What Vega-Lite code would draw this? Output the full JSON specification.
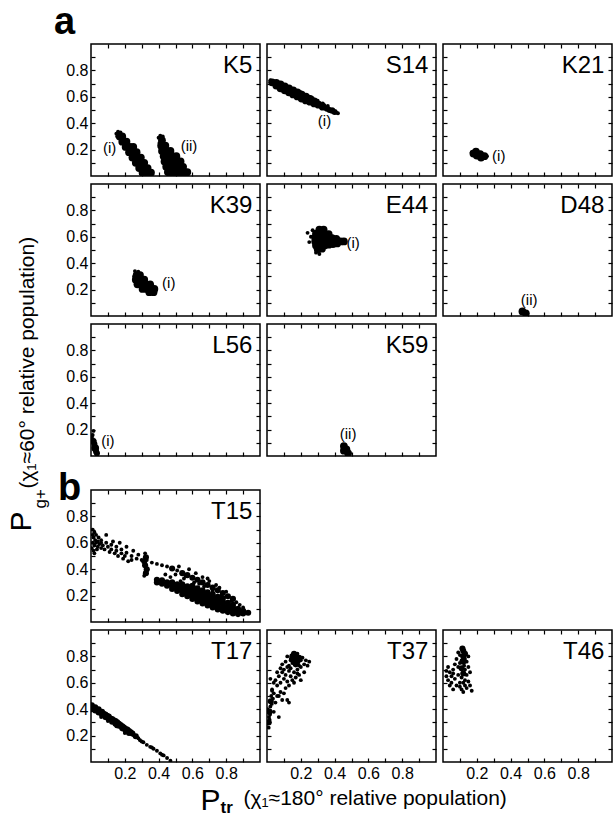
{
"$schema":"https://vega.github.io/schema/vega-lite/v6.json",
"background":"white",
"padding":{"top":3,"left":5,"right":5,"bottom":5},
"config":{"font":"Liberation Sans","view":{"stroke":"black","strokeWidth":1.5},
"axis":{"domain":false,"grid":false,"tickSize":-4,"tickColor":"black","tickWidth":1.2,"labelFontSize":16,"labelColor":"black","labelPadding":7,"labelOverlap":false,"labelFlush":false,"titleColor":"black","titleFontWeight":"normal"}},
"datasets":{
"names":[{"p":"K5"},{"p":"S14"},{"p":"K21"},{"p":"K39"},{"p":"E44"},{"p":"D48"},{"p":"L56"},{"p":"K59"},{"p":"T15"},{"p":"T17"},{"p":"T37"},{"p":"T46"}],
"ann":[{"p":"K5","x":0.11,"y":0.21,"t":"(i)"},{"p":"K5","x":0.58,"y":0.23,"t":"(ii)"},{"p":"S14","x":0.34,"y":0.42,"t":"(i)"},{"p":"K21","x":0.33,"y":0.15,"t":"(i)"},{"p":"K39","x":0.46,"y":0.25,"t":"(i)"},{"p":"E44","x":0.51,"y":0.55,"t":"(i)"},{"p":"D48","x":0.51,"y":0.12,"t":"(ii)"},{"p":"L56","x":0.1,"y":0.11,"t":"(i)"},{"p":"K59","x":0.48,"y":0.17,"t":"(ii)"}],
"pts":[
{"p":"K5","x":0.17,"y":0.3,"k":"c"},{"p":"K5","x":0.185,"y":0.3,"k":"c"},{"p":"K5","x":0.185,"y":0.26,"k":"c"},{"p":"K5","x":0.21,"y":0.26,"k":"c"},{"p":"K5","x":0.205,"y":0.22,"k":"c"},{"p":"K5","x":0.23,"y":0.22,"k":"c"},{"p":"K5","x":0.25,"y":0.22,"k":"c"},{"p":"K5","x":0.225,"y":0.18,"k":"c"},{"p":"K5","x":0.25,"y":0.18,"k":"c"},{"p":"K5","x":0.27,"y":0.18,"k":"c"},{"p":"K5","x":0.245,"y":0.14,"k":"c"},{"p":"K5","x":0.27,"y":0.14,"k":"c"},{"p":"K5","x":0.295,"y":0.14,"k":"c"},{"p":"K5","x":0.265,"y":0.1,"k":"c"},{"p":"K5","x":0.29,"y":0.1,"k":"c"},{"p":"K5","x":0.315,"y":0.1,"k":"c"},{"p":"K5","x":0.285,"y":0.06,"k":"c"},{"p":"K5","x":0.31,"y":0.06,"k":"c"},{"p":"K5","x":0.335,"y":0.06,"k":"c"},{"p":"K5","x":0.305,"y":0.025,"k":"c"},{"p":"K5","x":0.33,"y":0.025,"k":"c"},{"p":"K5","x":0.355,"y":0.025,"k":"c"},
{"p":"K5","x":0.42,"y":0.27,"k":"c"},{"p":"K5","x":0.415,"y":0.23,"k":"c"},{"p":"K5","x":0.44,"y":0.23,"k":"c"},{"p":"K5","x":0.42,"y":0.19,"k":"c"},{"p":"K5","x":0.445,"y":0.19,"k":"c"},{"p":"K5","x":0.47,"y":0.19,"k":"c"},{"p":"K5","x":0.43,"y":0.15,"k":"c"},{"p":"K5","x":0.455,"y":0.15,"k":"c"},{"p":"K5","x":0.48,"y":0.15,"k":"c"},{"p":"K5","x":0.505,"y":0.15,"k":"c"},{"p":"K5","x":0.435,"y":0.11,"k":"c"},{"p":"K5","x":0.46,"y":0.11,"k":"c"},{"p":"K5","x":0.485,"y":0.11,"k":"c"},{"p":"K5","x":0.51,"y":0.11,"k":"c"},{"p":"K5","x":0.53,"y":0.11,"k":"c"},{"p":"K5","x":0.445,"y":0.07,"k":"c"},{"p":"K5","x":0.47,"y":0.07,"k":"c"},{"p":"K5","x":0.495,"y":0.07,"k":"c"},{"p":"K5","x":0.52,"y":0.07,"k":"c"},{"p":"K5","x":0.545,"y":0.07,"k":"c"},{"p":"K5","x":0.455,"y":0.03,"k":"c"},{"p":"K5","x":0.48,"y":0.03,"k":"c"},{"p":"K5","x":0.505,"y":0.03,"k":"c"},{"p":"K5","x":0.53,"y":0.03,"k":"c"},{"p":"K5","x":0.555,"y":0.03,"k":"c"},{"p":"K5","x":0.57,"y":0.03,"k":"c"},{"p":"K5","x":0.47,"y":0.005,"k":"c"},{"p":"K5","x":0.5,"y":0.005,"k":"c"},{"p":"K5","x":0.53,"y":0.005,"k":"c"},{"p":"K5","x":0.56,"y":0.005,"k":"c"},
{"p":"K5","x":0.15,"y":0.32,"k":"d"},{"p":"K5","x":0.16,"y":0.335,"k":"d"},{"p":"K5","x":0.155,"y":0.3,"k":"d"},{"p":"K5","x":0.175,"y":0.33,"k":"d"},{"p":"K5","x":0.4,"y":0.29,"k":"d"},{"p":"K5","x":0.41,"y":0.305,"k":"d"},{"p":"K5","x":0.425,"y":0.3,"k":"d"},{"p":"K5","x":0.405,"y":0.25,"k":"d"},
{"p":"S14","x":0.03,"y":0.71,"k":"c"},{"p":"S14","x":0.055,"y":0.705,"k":"c"},{"p":"S14","x":0.055,"y":0.685,"k":"c"},{"p":"S14","x":0.08,"y":0.694,"k":"c"},{"p":"S14","x":0.08,"y":0.664,"k":"c"},{"p":"S14","x":0.105,"y":0.679,"k":"c"},{"p":"S14","x":0.105,"y":0.649,"k":"c"},{"p":"S14","x":0.13,"y":0.664,"k":"c"},{"p":"S14","x":0.13,"y":0.634,"k":"c"},{"p":"S14","x":0.155,"y":0.648,"k":"c"},{"p":"S14","x":0.155,"y":0.618,"k":"c"},{"p":"S14","x":0.18,"y":0.633,"k":"c"},{"p":"S14","x":0.18,"y":0.603,"k":"c"},{"p":"S14","x":0.205,"y":0.617,"k":"c"},{"p":"S14","x":0.205,"y":0.587,"k":"c"},{"p":"S14","x":0.23,"y":0.602,"k":"c"},{"p":"S14","x":0.23,"y":0.572,"k":"c"},{"p":"S14","x":0.255,"y":0.585,"k":"c"},{"p":"S14","x":0.255,"y":0.563,"k":"c"},{"p":"S14","x":0.28,"y":0.565,"k":"c"},{"p":"S14","x":0.28,"y":0.55,"k":"c"},{"p":"S14","x":0.305,"y":0.54,"k":"c"},{"p":"S14","x":0.33,"y":0.525,"k":"c"},
{"p":"S14","x":0.355,"y":0.51,"k":"m"},{"p":"S14","x":0.37,"y":0.5,"k":"m"},{"p":"S14","x":0.385,"y":0.495,"k":"m"},{"p":"S14","x":0.4,"y":0.485,"k":"m"},
{"p":"S14","x":0.39,"y":0.505,"k":"d"},{"p":"S14","x":0.41,"y":0.48,"k":"d"},{"p":"S14","x":0.42,"y":0.475,"k":"d"},{"p":"S14","x":0.36,"y":0.53,"k":"d"},{"p":"S14","x":0.3,"y":0.57,"k":"d"},{"p":"S14","x":0.25,"y":0.6,"k":"d"},{"p":"S14","x":0.2,"y":0.635,"k":"d"},{"p":"S14","x":0.02,"y":0.725,"k":"d"},{"p":"S14","x":0.33,"y":0.55,"k":"d"},{"p":"S14","x":0.27,"y":0.59,"k":"d"},
{"p":"K21","x":0.18,"y":0.17,"k":"c"},{"p":"K21","x":0.195,"y":0.185,"k":"c"},{"p":"K21","x":0.2,"y":0.155,"k":"c"},{"p":"K21","x":0.22,"y":0.165,"k":"c"},{"p":"K21","x":0.225,"y":0.14,"k":"c"},{"p":"K21","x":0.245,"y":0.15,"k":"c"},{"p":"K21","x":0.26,"y":0.15,"k":"d"},{"p":"K21","x":0.17,"y":0.18,"k":"d"},
{"p":"K39","x":0.27,"y":0.31,"k":"c"},{"p":"K39","x":0.29,"y":0.31,"k":"c"},{"p":"K39","x":0.265,"y":0.275,"k":"c"},{"p":"K39","x":0.29,"y":0.275,"k":"c"},{"p":"K39","x":0.315,"y":0.275,"k":"c"},{"p":"K39","x":0.275,"y":0.24,"k":"c"},{"p":"K39","x":0.3,"y":0.24,"k":"c"},{"p":"K39","x":0.325,"y":0.24,"k":"c"},{"p":"K39","x":0.35,"y":0.24,"k":"c"},{"p":"K39","x":0.305,"y":0.205,"k":"c"},{"p":"K39","x":0.33,"y":0.205,"k":"c"},{"p":"K39","x":0.355,"y":0.205,"k":"c"},{"p":"K39","x":0.375,"y":0.205,"k":"c"},{"p":"K39","x":0.345,"y":0.18,"k":"c"},{"p":"K39","x":0.37,"y":0.18,"k":"c"},{"p":"K39","x":0.26,"y":0.34,"k":"d"},{"p":"K39","x":0.255,"y":0.3,"k":"d"},{"p":"K39","x":0.28,"y":0.335,"k":"d"},
{"p":"E44","x":0.31,"y":0.655,"k":"c"},{"p":"E44","x":0.335,"y":0.655,"k":"c"},{"p":"E44","x":0.29,"y":0.625,"k":"c"},{"p":"E44","x":0.315,"y":0.625,"k":"c"},{"p":"E44","x":0.34,"y":0.625,"k":"c"},{"p":"E44","x":0.365,"y":0.62,"k":"c"},{"p":"E44","x":0.285,"y":0.595,"k":"c"},{"p":"E44","x":0.31,"y":0.595,"k":"c"},{"p":"E44","x":0.335,"y":0.595,"k":"c"},{"p":"E44","x":0.36,"y":0.595,"k":"c"},{"p":"E44","x":0.385,"y":0.59,"k":"c"},{"p":"E44","x":0.41,"y":0.585,"k":"c"},{"p":"E44","x":0.285,"y":0.565,"k":"c"},{"p":"E44","x":0.31,"y":0.565,"k":"c"},{"p":"E44","x":0.335,"y":0.565,"k":"c"},{"p":"E44","x":0.36,"y":0.565,"k":"c"},{"p":"E44","x":0.385,"y":0.565,"k":"c"},{"p":"E44","x":0.41,"y":0.565,"k":"c"},{"p":"E44","x":0.435,"y":0.565,"k":"c"},{"p":"E44","x":0.455,"y":0.565,"k":"c"},{"p":"E44","x":0.29,"y":0.535,"k":"c"},{"p":"E44","x":0.315,"y":0.535,"k":"c"},{"p":"E44","x":0.34,"y":0.535,"k":"c"},{"p":"E44","x":0.365,"y":0.54,"k":"c"},{"p":"E44","x":0.39,"y":0.545,"k":"c"},{"p":"E44","x":0.415,"y":0.55,"k":"c"},{"p":"E44","x":0.3,"y":0.505,"k":"c"},{"p":"E44","x":0.325,"y":0.51,"k":"c"},
{"p":"E44","x":0.26,"y":0.6,"k":"d"},{"p":"E44","x":0.25,"y":0.56,"k":"d"},{"p":"E44","x":0.24,"y":0.63,"k":"d"},{"p":"E44","x":0.29,"y":0.48,"k":"d"},{"p":"E44","x":0.31,"y":0.47,"k":"d"},{"p":"E44","x":0.27,"y":0.65,"k":"d"},
{"p":"D48","x":0.47,"y":0.035,"k":"c"},{"p":"D48","x":0.49,"y":0.02,"k":"c"},
{"p":"L56","x":0.025,"y":0.06,"k":"c"},{"p":"L56","x":0.02,"y":0.09,"k":"m"},{"p":"L56","x":0.015,"y":0.11,"k":"m"},{"p":"L56","x":0.03,"y":0.035,"k":"m"},{"p":"L56","x":0.035,"y":0.02,"k":"m"},{"p":"L56","x":0.01,"y":0.13,"k":"d"},{"p":"L56","x":0.01,"y":0.16,"k":"d"},{"p":"L56","x":0.015,"y":0.19,"k":"d"},{"p":"L56","x":0.02,"y":0.12,"k":"d"},{"p":"L56","x":0.005,"y":0.15,"k":"d"},
{"p":"K59","x":0.455,"y":0.075,"k":"c"},{"p":"K59","x":0.47,"y":0.05,"k":"c"},{"p":"K59","x":0.48,"y":0.02,"k":"c"},{"p":"K59","x":0.455,"y":0.04,"k":"c"},
{"p":"T15","x":0.39,"y":0.3,"k":"m"},{"p":"T15","x":0.39,"y":0.32,"k":"m"},{"p":"T15","x":0.42,"y":0.29,"k":"m"},{"p":"T15","x":0.42,"y":0.315,"k":"m"},{"p":"T15","x":0.45,"y":0.275,"k":"m"},{"p":"T15","x":0.45,"y":0.3,"k":"m"},{"p":"T15","x":0.48,"y":0.25,"k":"m"},{"p":"T15","x":0.48,"y":0.275,"k":"m"},{"p":"T15","x":0.48,"y":0.3,"k":"m"},{"p":"T15","x":0.51,"y":0.235,"k":"m"},{"p":"T15","x":0.51,"y":0.26,"k":"m"},{"p":"T15","x":0.51,"y":0.285,"k":"m"},{"p":"T15","x":0.54,"y":0.21,"k":"m"},{"p":"T15","x":0.54,"y":0.235,"k":"m"},{"p":"T15","x":0.54,"y":0.26,"k":"m"},{"p":"T15","x":0.54,"y":0.285,"k":"m"},{"p":"T15","x":0.57,"y":0.195,"k":"m"},{"p":"T15","x":0.57,"y":0.22,"k":"m"},{"p":"T15","x":0.57,"y":0.245,"k":"m"},{"p":"T15","x":0.57,"y":0.27,"k":"m"},{"p":"T15","x":0.6,"y":0.175,"k":"m"},{"p":"T15","x":0.6,"y":0.2,"k":"m"},{"p":"T15","x":0.6,"y":0.225,"k":"m"},{"p":"T15","x":0.6,"y":0.25,"k":"m"},{"p":"T15","x":0.6,"y":0.275,"k":"m"},{"p":"T15","x":0.63,"y":0.155,"k":"m"},{"p":"T15","x":0.63,"y":0.18,"k":"m"},{"p":"T15","x":0.63,"y":0.205,"k":"m"},{"p":"T15","x":0.63,"y":0.23,"k":"m"},{"p":"T15","x":0.63,"y":0.255,"k":"m"},{"p":"T15","x":0.66,"y":0.14,"k":"m"},{"p":"T15","x":0.66,"y":0.165,"k":"m"},{"p":"T15","x":0.66,"y":0.19,"k":"m"},{"p":"T15","x":0.66,"y":0.215,"k":"m"},{"p":"T15","x":0.66,"y":0.24,"k":"m"},{"p":"T15","x":0.69,"y":0.125,"k":"m"},{"p":"T15","x":0.69,"y":0.15,"k":"m"},{"p":"T15","x":0.69,"y":0.175,"k":"m"},{"p":"T15","x":0.69,"y":0.2,"k":"m"},{"p":"T15","x":0.69,"y":0.225,"k":"m"},{"p":"T15","x":0.72,"y":0.11,"k":"m"},{"p":"T15","x":0.72,"y":0.135,"k":"m"},{"p":"T15","x":0.72,"y":0.16,"k":"m"},{"p":"T15","x":0.72,"y":0.185,"k":"m"},{"p":"T15","x":0.72,"y":0.21,"k":"m"},{"p":"T15","x":0.75,"y":0.095,"k":"m"},{"p":"T15","x":0.75,"y":0.12,"k":"m"},{"p":"T15","x":0.75,"y":0.145,"k":"m"},{"p":"T15","x":0.75,"y":0.17,"k":"m"},{"p":"T15","x":0.75,"y":0.19,"k":"m"},{"p":"T15","x":0.78,"y":0.085,"k":"m"},{"p":"T15","x":0.78,"y":0.11,"k":"m"},{"p":"T15","x":0.78,"y":0.135,"k":"m"},{"p":"T15","x":0.78,"y":0.155,"k":"m"},{"p":"T15","x":0.78,"y":0.18,"k":"m"},{"p":"T15","x":0.81,"y":0.075,"k":"m"},{"p":"T15","x":0.81,"y":0.1,"k":"m"},{"p":"T15","x":0.81,"y":0.12,"k":"m"},{"p":"T15","x":0.81,"y":0.145,"k":"m"},{"p":"T15","x":0.84,"y":0.065,"k":"m"},{"p":"T15","x":0.84,"y":0.09,"k":"m"},{"p":"T15","x":0.84,"y":0.11,"k":"m"},{"p":"T15","x":0.84,"y":0.13,"k":"m"},{"p":"T15","x":0.87,"y":0.06,"k":"m"},{"p":"T15","x":0.87,"y":0.08,"k":"m"},{"p":"T15","x":0.87,"y":0.1,"k":"m"},{"p":"T15","x":0.9,"y":0.065,"k":"m"},{"p":"T15","x":0.9,"y":0.085,"k":"m"},{"p":"T15","x":0.93,"y":0.07,"k":"m"},
{"p":"T15","x":0.45,"y":0.42,"k":"d"},{"p":"T15","x":0.48,"y":0.405,"k":"m"},{"p":"T15","x":0.51,"y":0.39,"k":"d"},{"p":"T15","x":0.54,"y":0.37,"k":"m"},{"p":"T15","x":0.57,"y":0.355,"k":"m"},{"p":"T15","x":0.6,"y":0.335,"k":"m"},{"p":"T15","x":0.63,"y":0.32,"k":"m"},{"p":"T15","x":0.66,"y":0.3,"k":"m"},{"p":"T15","x":0.69,"y":0.28,"k":"m"},{"p":"T15","x":0.72,"y":0.26,"k":"m"},{"p":"T15","x":0.75,"y":0.24,"k":"m"},{"p":"T15","x":0.78,"y":0.22,"k":"m"},{"p":"T15","x":0.81,"y":0.195,"k":"m"},{"p":"T15","x":0.84,"y":0.175,"k":"m"},
{"p":"T15","x":0.32,"y":0.52,"k":"d"},{"p":"T15","x":0.325,"y":0.49,"k":"m"},{"p":"T15","x":0.315,"y":0.46,"k":"m"},{"p":"T15","x":0.32,"y":0.43,"k":"m"},{"p":"T15","x":0.33,"y":0.4,"k":"m"},{"p":"T15","x":0.325,"y":0.37,"k":"m"},{"p":"T15","x":0.315,"y":0.35,"k":"d"},{"p":"T15","x":0.33,"y":0.47,"k":"d"},
{"p":"T15","x":0.5,"y":0.36,"k":"d"},{"p":"T15","x":0.55,"y":0.33,"k":"d"},{"p":"T15","x":0.62,"y":0.37,"k":"d"},{"p":"T15","x":0.7,"y":0.31,"k":"d"},{"p":"T15","x":0.58,"y":0.4,"k":"d"},{"p":"T15","x":0.47,"y":0.34,"k":"d"},{"p":"T15","x":0.44,"y":0.36,"k":"d"},{"p":"T15","x":0.52,"y":0.42,"k":"d"},{"p":"T15","x":0.66,"y":0.34,"k":"d"},{"p":"T15","x":0.74,"y":0.28,"k":"d"},{"p":"T15","x":0.8,"y":0.23,"k":"d"},{"p":"T15","x":0.86,"y":0.15,"k":"d"},{"p":"T15","x":0.9,"y":0.11,"k":"d"},{"p":"T15","x":0.88,"y":0.13,"k":"d"},{"p":"T15","x":0.76,"y":0.26,"k":"d"},{"p":"T15","x":0.69,"y":0.33,"k":"d"},{"p":"T15","x":0.53,"y":0.31,"k":"d"},{"p":"T15","x":0.61,"y":0.3,"k":"d"},{"p":"T15","x":0.67,"y":0.27,"k":"d"},{"p":"T15","x":0.72,"y":0.235,"k":"d"},{"p":"T15","x":0.77,"y":0.2,"k":"d"},{"p":"T15","x":0.83,"y":0.16,"k":"d"},{"p":"T15","x":0.64,"y":0.29,"k":"d"},{"p":"T15","x":0.56,"y":0.35,"k":"d"},
{"p":"T15","x":0.06,"y":0.62,"k":"d"},{"p":"T15","x":0.09,"y":0.6,"k":"d"},{"p":"T15","x":0.12,"y":0.585,"k":"d"},{"p":"T15","x":0.15,"y":0.57,"k":"d"},{"p":"T15","x":0.18,"y":0.55,"k":"d"},{"p":"T15","x":0.21,"y":0.525,"k":"d"},{"p":"T15","x":0.24,"y":0.5,"k":"d"},{"p":"T15","x":0.27,"y":0.48,"k":"d"},{"p":"T15","x":0.3,"y":0.47,"k":"d"},{"p":"T15","x":0.36,"y":0.45,"k":"d"},{"p":"T15","x":0.39,"y":0.44,"k":"d"},{"p":"T15","x":0.42,"y":0.43,"k":"d"},
{"p":"T15","x":0.01,"y":0.7,"k":"d"},{"p":"T15","x":0.02,"y":0.68,"k":"d"},{"p":"T15","x":0.015,"y":0.64,"k":"d"},{"p":"T15","x":0.03,"y":0.66,"k":"d"},{"p":"T15","x":0.01,"y":0.6,"k":"d"},{"p":"T15","x":0.02,"y":0.58,"k":"d"},{"p":"T15","x":0.03,"y":0.6,"k":"d"},{"p":"T15","x":0.04,"y":0.57,"k":"d"},{"p":"T15","x":0.05,"y":0.59,"k":"d"},{"p":"T15","x":0.035,"y":0.55,"k":"d"},{"p":"T15","x":0.06,"y":0.56,"k":"d"},{"p":"T15","x":0.07,"y":0.58,"k":"d"},{"p":"T15","x":0.08,"y":0.55,"k":"d"},{"p":"T15","x":0.1,"y":0.57,"k":"d"},{"p":"T15","x":0.11,"y":0.53,"k":"d"},{"p":"T15","x":0.12,"y":0.55,"k":"d"},{"p":"T15","x":0.14,"y":0.52,"k":"d"},{"p":"T15","x":0.15,"y":0.54,"k":"d"},{"p":"T15","x":0.16,"y":0.5,"k":"d"},{"p":"T15","x":0.18,"y":0.52,"k":"d"},{"p":"T15","x":0.19,"y":0.48,"k":"d"},{"p":"T15","x":0.2,"y":0.5,"k":"d"},{"p":"T15","x":0.22,"y":0.46,"k":"d"},{"p":"T15","x":0.24,"y":0.47,"k":"d"},{"p":"T15","x":0.02,"y":0.52,"k":"d"},{"p":"T15","x":0.005,"y":0.56,"k":"d"},{"p":"T15","x":0.045,"y":0.64,"k":"d"},{"p":"T15","x":0.09,"y":0.66,"k":"d"},{"p":"T15","x":0.13,"y":0.61,"k":"d"},{"p":"T15","x":0.17,"y":0.6,"k":"d"},{"p":"T15","x":0.21,"y":0.57,"k":"d"},{"p":"T15","x":0.25,"y":0.54,"k":"d"},{"p":"T15","x":0.28,"y":0.51,"k":"d"},{"p":"T15","x":0.01,"y":0.66,"k":"d"},{"p":"T15","x":0.025,"y":0.62,"k":"d"},{"p":"T15","x":0.04,"y":0.61,"k":"d"},{"p":"T15","x":0.06,"y":0.6,"k":"d"},{"p":"T15","x":0.015,"y":0.54,"k":"d"},
{"p":"T17","x":0.005,"y":0.43,"k":"m"},{"p":"T17","x":0.005,"y":0.4,"k":"m"},{"p":"T17","x":0.025,"y":0.415,"k":"m"},{"p":"T17","x":0.025,"y":0.39,"k":"m"},{"p":"T17","x":0.045,"y":0.4,"k":"m"},{"p":"T17","x":0.045,"y":0.375,"k":"m"},{"p":"T17","x":0.065,"y":0.38,"k":"m"},{"p":"T17","x":0.065,"y":0.36,"k":"m"},{"p":"T17","x":0.085,"y":0.36,"k":"m"},{"p":"T17","x":0.085,"y":0.34,"k":"m"},{"p":"T17","x":0.105,"y":0.345,"k":"m"},{"p":"T17","x":0.105,"y":0.325,"k":"m"},{"p":"T17","x":0.125,"y":0.325,"k":"m"},{"p":"T17","x":0.125,"y":0.305,"k":"m"},{"p":"T17","x":0.145,"y":0.31,"k":"m"},{"p":"T17","x":0.145,"y":0.29,"k":"m"},{"p":"T17","x":0.165,"y":0.29,"k":"m"},{"p":"T17","x":0.165,"y":0.275,"k":"m"},{"p":"T17","x":0.185,"y":0.27,"k":"m"},{"p":"T17","x":0.185,"y":0.255,"k":"m"},{"p":"T17","x":0.205,"y":0.25,"k":"m"},{"p":"T17","x":0.205,"y":0.24,"k":"m"},{"p":"T17","x":0.225,"y":0.235,"k":"m"},{"p":"T17","x":0.225,"y":0.22,"k":"m"},{"p":"T17","x":0.245,"y":0.215,"k":"m"},{"p":"T17","x":0.265,"y":0.195,"k":"m"},{"p":"T17","x":0.015,"y":0.41,"k":"m"},{"p":"T17","x":0.035,"y":0.395,"k":"m"},{"p":"T17","x":0.055,"y":0.38,"k":"m"},{"p":"T17","x":0.075,"y":0.365,"k":"m"},{"p":"T17","x":0.095,"y":0.35,"k":"m"},{"p":"T17","x":0.115,"y":0.33,"k":"m"},{"p":"T17","x":0.135,"y":0.315,"k":"m"},{"p":"T17","x":0.155,"y":0.3,"k":"m"},{"p":"T17","x":0.175,"y":0.28,"k":"m"},{"p":"T17","x":0.195,"y":0.26,"k":"m"},{"p":"T17","x":0.215,"y":0.245,"k":"m"},{"p":"T17","x":0.235,"y":0.225,"k":"m"},
{"p":"T17","x":0.29,"y":0.165,"k":"d"},{"p":"T17","x":0.31,"y":0.15,"k":"d"},{"p":"T17","x":0.33,"y":0.13,"k":"d"},{"p":"T17","x":0.35,"y":0.115,"k":"d"},{"p":"T17","x":0.37,"y":0.1,"k":"d"},{"p":"T17","x":0.39,"y":0.085,"k":"d"},{"p":"T17","x":0.41,"y":0.065,"k":"d"},{"p":"T17","x":0.43,"y":0.05,"k":"d"},{"p":"T17","x":0.45,"y":0.03,"k":"d"},{"p":"T17","x":0.47,"y":0.01,"k":"d"},{"p":"T17","x":0.36,"y":0.11,"k":"d"},{"p":"T17","x":0.3,"y":0.155,"k":"d"},{"p":"T17","x":0.42,"y":0.055,"k":"d"},{"p":"T17","x":0.06,"y":0.34,"k":"d"},{"p":"T17","x":0.1,"y":0.31,"k":"d"},{"p":"T17","x":0.15,"y":0.27,"k":"d"},{"p":"T17","x":0.2,"y":0.22,"k":"d"},{"p":"T17","x":0.255,"y":0.2,"k":"d"},{"p":"T17","x":0.28,"y":0.18,"k":"d"},
{"p":"T37","x":0.15,"y":0.8,"k":"m"},{"p":"T37","x":0.17,"y":0.8,"k":"m"},{"p":"T37","x":0.19,"y":0.79,"k":"m"},{"p":"T37","x":0.16,"y":0.77,"k":"m"},{"p":"T37","x":0.18,"y":0.76,"k":"m"},{"p":"T37","x":0.2,"y":0.77,"k":"d"},{"p":"T37","x":0.17,"y":0.74,"k":"m"},{"p":"T37","x":0.15,"y":0.75,"k":"d"},{"p":"T37","x":0.13,"y":0.73,"k":"d"},{"p":"T37","x":0.19,"y":0.73,"k":"d"},{"p":"T37","x":0.16,"y":0.82,"k":"m"},{"p":"T37","x":0.18,"y":0.82,"k":"d"},{"p":"T37","x":0.14,"y":0.77,"k":"d"},{"p":"T37","x":0.17,"y":0.78,"k":"m"},
{"p":"T37","x":0.01,"y":0.3,"k":"m"},{"p":"T37","x":0.012,"y":0.34,"k":"d"},{"p":"T37","x":0.015,"y":0.38,"k":"m"},{"p":"T37","x":0.02,"y":0.42,"k":"d"},{"p":"T37","x":0.022,"y":0.46,"k":"m"},{"p":"T37","x":0.025,"y":0.5,"k":"d"},{"p":"T37","x":0.03,"y":0.54,"k":"d"},{"p":"T37","x":0.01,"y":0.26,"k":"d"},{"p":"T37","x":0.018,"y":0.36,"k":"d"},{"p":"T37","x":0.028,"y":0.44,"k":"d"},{"p":"T37","x":0.035,"y":0.48,"k":"d"},{"p":"T37","x":0.04,"y":0.52,"k":"d"},{"p":"T37","x":0.015,"y":0.32,"k":"d"},{"p":"T37","x":0.005,"y":0.4,"k":"d"},
{"p":"T37","x":0.05,"y":0.62,"k":"d"},{"p":"T37","x":0.07,"y":0.65,"k":"d"},{"p":"T37","x":0.09,"y":0.68,"k":"d"},{"p":"T37","x":0.1,"y":0.7,"k":"d"},{"p":"T37","x":0.12,"y":0.72,"k":"d"},{"p":"T37","x":0.11,"y":0.66,"k":"d"},{"p":"T37","x":0.13,"y":0.69,"k":"d"},{"p":"T37","x":0.14,"y":0.71,"k":"d"},{"p":"T37","x":0.08,"y":0.6,"k":"d"},{"p":"T37","x":0.06,"y":0.58,"k":"d"},{"p":"T37","x":0.1,"y":0.63,"k":"d"},{"p":"T37","x":0.12,"y":0.61,"k":"d"},{"p":"T37","x":0.14,"y":0.65,"k":"d"},{"p":"T37","x":0.16,"y":0.68,"k":"d"},{"p":"T37","x":0.18,"y":0.7,"k":"d"},{"p":"T37","x":0.2,"y":0.72,"k":"d"},{"p":"T37","x":0.22,"y":0.74,"k":"d"},{"p":"T37","x":0.21,"y":0.79,"k":"d"},{"p":"T37","x":0.23,"y":0.77,"k":"d"},{"p":"T37","x":0.24,"y":0.73,"k":"d"},{"p":"T37","x":0.25,"y":0.76,"k":"d"},{"p":"T37","x":0.22,"y":0.68,"k":"d"},{"p":"T37","x":0.19,"y":0.66,"k":"d"},{"p":"T37","x":0.15,"y":0.62,"k":"d"},{"p":"T37","x":0.13,"y":0.58,"k":"d"},{"p":"T37","x":0.11,"y":0.56,"k":"d"},{"p":"T37","x":0.03,"y":0.55,"k":"d"},{"p":"T37","x":0.04,"y":0.6,"k":"d"},{"p":"T37","x":0.02,"y":0.63,"k":"d"},{"p":"T37","x":0.09,"y":0.74,"k":"d"},{"p":"T37","x":0.11,"y":0.76,"k":"d"},{"p":"T37","x":0.14,"y":0.78,"k":"d"},{"p":"T37","x":0.12,"y":0.8,"k":"d"},{"p":"T37","x":0.08,"y":0.71,"k":"d"},{"p":"T37","x":0.06,"y":0.68,"k":"d"},{"p":"T37","x":0.17,"y":0.64,"k":"d"},{"p":"T37","x":0.2,"y":0.62,"k":"d"},{"p":"T37","x":0.1,"y":0.52,"k":"d"},{"p":"T37","x":0.07,"y":0.5,"k":"d"},{"p":"T37","x":0.13,"y":0.45,"k":"d"},{"p":"T37","x":0.09,"y":0.47,"k":"d"},{"p":"T37","x":0.16,"y":0.6,"k":"d"},{"p":"T37","x":0.18,"y":0.67,"k":"d"},{"p":"T37","x":0.05,"y":0.45,"k":"d"},{"p":"T37","x":0.06,"y":0.5,"k":"d"},{"p":"T37","x":0.08,"y":0.53,"k":"d"},{"p":"T37","x":0.07,"y":0.34,"k":"d"},{"p":"T37","x":0.12,"y":0.47,"k":"d"},{"p":"T37","x":0.04,"y":0.38,"k":"d"},
{"p":"T46","x":0.12,"y":0.84,"k":"m"},{"p":"T46","x":0.13,"y":0.82,"k":"m"},{"p":"T46","x":0.12,"y":0.8,"k":"m"},{"p":"T46","x":0.13,"y":0.78,"k":"d"},{"p":"T46","x":0.12,"y":0.76,"k":"m"},{"p":"T46","x":0.125,"y":0.73,"k":"d"},{"p":"T46","x":0.11,"y":0.71,"k":"m"},{"p":"T46","x":0.13,"y":0.7,"k":"d"},{"p":"T46","x":0.12,"y":0.67,"k":"m"},{"p":"T46","x":0.11,"y":0.64,"k":"d"},{"p":"T46","x":0.13,"y":0.62,"k":"d"},{"p":"T46","x":0.12,"y":0.6,"k":"d"},{"p":"T46","x":0.115,"y":0.86,"k":"m"},
{"p":"T46","x":0.03,"y":0.72,"k":"d"},{"p":"T46","x":0.04,"y":0.68,"k":"d"},{"p":"T46","x":0.05,"y":0.65,"k":"d"},{"p":"T46","x":0.03,"y":0.62,"k":"d"},{"p":"T46","x":0.06,"y":0.7,"k":"d"},{"p":"T46","x":0.07,"y":0.74,"k":"d"},{"p":"T46","x":0.08,"y":0.78,"k":"d"},{"p":"T46","x":0.09,"y":0.72,"k":"d"},{"p":"T46","x":0.1,"y":0.75,"k":"d"},{"p":"T46","x":0.09,"y":0.66,"k":"d"},{"p":"T46","x":0.07,"y":0.63,"k":"d"},{"p":"T46","x":0.05,"y":0.6,"k":"d"},{"p":"T46","x":0.08,"y":0.58,"k":"d"},{"p":"T46","x":0.1,"y":0.6,"k":"d"},{"p":"T46","x":0.14,"y":0.66,"k":"d"},{"p":"T46","x":0.15,"y":0.72,"k":"d"},{"p":"T46","x":0.16,"y":0.68,"k":"d"},{"p":"T46","x":0.15,"y":0.61,"k":"d"},{"p":"T46","x":0.16,"y":0.58,"k":"d"},{"p":"T46","x":0.17,"y":0.54,"k":"d"},{"p":"T46","x":0.14,"y":0.56,"k":"d"},{"p":"T46","x":0.11,"y":0.55,"k":"d"},{"p":"T46","x":0.1,"y":0.57,"k":"d"},{"p":"T46","x":0.06,"y":0.55,"k":"d"},{"p":"T46","x":0.04,"y":0.58,"k":"d"},{"p":"T46","x":0.02,"y":0.65,"k":"d"},{"p":"T46","x":0.02,"y":0.69,"k":"d"},{"p":"T46","x":0.14,"y":0.76,"k":"d"},{"p":"T46","x":0.15,"y":0.8,"k":"d"},{"p":"T46","x":0.1,"y":0.81,"k":"d"},{"p":"T46","x":0.09,"y":0.83,"k":"d"},{"p":"T46","x":0.11,"y":0.77,"k":"d"},{"p":"T46","x":0.06,"y":0.67,"k":"d"},{"p":"T46","x":0.13,"y":0.58,"k":"d"},{"p":"T46","x":0.12,"y":0.53,"k":"d"}
]},
"columns":3,
"bounds":"flush",
"spacing":{"row":8,"column":7},
"concat":[
{"width":169,"height":132,
"title":{"text":"a","anchor":"start","frame":"group","fontSize":38,"fontWeight":"bold","baseline":"alphabetic","offset":0,"dx":-37,"dy":29,"color":"black"},
"layer":[
{"data":{"name":"pts"},"transform":[{"filter":"datum.p=='K5'"}],"mark":{"type":"point","filled":true,"color":"black","opacity":1,"clip":true},
"encoding":{"x":{"field":"x","type":"quantitative","scale":{"domain":[0,1],"nice":false},"axis":{"orient":"bottom","values":[0.1,0.2,0.3,0.4,0.5,0.6,0.7,0.8,0.9],"labels":false,"title":null}},
"y":{"field":"y","type":"quantitative","scale":{"domain":[0,1],"nice":false},"axis":{"orient":"left","values":[0.1,0.2,0.3,0.4,0.5,0.6,0.7,0.8,0.9],"labelExpr":"indexof([2,4,6,8], round(datum.value*10)) >= 0 ? datum.label : ''","title":null}},
"size":{"field":"k","type":"ordinal","scale":{"domain":["c","m","d"],"range":[60,15,2.5]},"legend":null}}},
{"data":{"name":"ann"},"transform":[{"filter":"datum.p=='K5'"}],"mark":{"type":"text","fontSize":15,"color":"black"},"encoding":{"x":{"field":"x","type":"quantitative","axis":null},"y":{"field":"y","type":"quantitative","axis":null},"text":{"field":"t"}}},
{"data":{"name":"names"},"transform":[{"filter":"datum.p=='K5'"}],"mark":{"type":"text","fontSize":24,"align":"right","baseline":"alphabetic","color":"black"},
"encoding":{"x":{"datum":0.955,"type":"quantitative","axis":{"orient":"top","values":[0.1,0.2,0.3,0.4,0.5,0.6,0.7,0.8,0.9],"labels":false,"title":null}},"y":{"datum":0.78,"type":"quantitative","axis":{"orient":"right","values":[0.1,0.2,0.3,0.4,0.5,0.6,0.7,0.8,0.9],"labels":false,"title":null}},"text":{"field":"p"}}}
],"resolve":{"axis":{"x":"independent","y":"independent"}}},
{"width":169,"height":132,
"layer":[
{"data":{"name":"pts"},"transform":[{"filter":"datum.p=='S14'"}],"mark":{"type":"point","filled":true,"color":"black","opacity":1,"clip":true},
"encoding":{"x":{"field":"x","type":"quantitative","scale":{"domain":[0,1],"nice":false},"axis":{"orient":"bottom","values":[0.1,0.2,0.3,0.4,0.5,0.6,0.7,0.8,0.9],"labels":false,"title":null}},
"y":{"field":"y","type":"quantitative","scale":{"domain":[0,1],"nice":false},"axis":{"orient":"left","values":[0.1,0.2,0.3,0.4,0.5,0.6,0.7,0.8,0.9],"labels":false,"title":null}},
"size":{"field":"k","type":"ordinal","scale":{"domain":["c","m","d"],"range":[60,15,2.5]},"legend":null}}},
{"data":{"name":"ann"},"transform":[{"filter":"datum.p=='S14'"}],"mark":{"type":"text","fontSize":15,"color":"black"},"encoding":{"x":{"field":"x","type":"quantitative","axis":null},"y":{"field":"y","type":"quantitative","axis":null},"text":{"field":"t"}}},
{"data":{"name":"names"},"transform":[{"filter":"datum.p=='S14'"}],"mark":{"type":"text","fontSize":24,"align":"right","baseline":"alphabetic","color":"black"},
"encoding":{"x":{"datum":0.955,"type":"quantitative","axis":{"orient":"top","values":[0.1,0.2,0.3,0.4,0.5,0.6,0.7,0.8,0.9],"labels":false,"title":null}},"y":{"datum":0.78,"type":"quantitative","axis":{"orient":"right","values":[0.1,0.2,0.3,0.4,0.5,0.6,0.7,0.8,0.9],"labels":false,"title":null}},"text":{"field":"p"}}}
],"resolve":{"axis":{"x":"independent","y":"independent"}}},
{"width":169,"height":132,
"layer":[
{"data":{"name":"pts"},"transform":[{"filter":"datum.p=='K21'"}],"mark":{"type":"point","filled":true,"color":"black","opacity":1,"clip":true},
"encoding":{"x":{"field":"x","type":"quantitative","scale":{"domain":[0,1],"nice":false},"axis":{"orient":"bottom","values":[0.1,0.2,0.3,0.4,0.5,0.6,0.7,0.8,0.9],"labels":false,"title":null}},
"y":{"field":"y","type":"quantitative","scale":{"domain":[0,1],"nice":false},"axis":{"orient":"left","values":[0.1,0.2,0.3,0.4,0.5,0.6,0.7,0.8,0.9],"labels":false,"title":null}},
"size":{"field":"k","type":"ordinal","scale":{"domain":["c","m","d"],"range":[60,15,2.5]},"legend":null}}},
{"data":{"name":"ann"},"transform":[{"filter":"datum.p=='K21'"}],"mark":{"type":"text","fontSize":15,"color":"black"},"encoding":{"x":{"field":"x","type":"quantitative","axis":null},"y":{"field":"y","type":"quantitative","axis":null},"text":{"field":"t"}}},
{"data":{"name":"names"},"transform":[{"filter":"datum.p=='K21'"}],"mark":{"type":"text","fontSize":24,"align":"right","baseline":"alphabetic","color":"black"},
"encoding":{"x":{"datum":0.955,"type":"quantitative","axis":{"orient":"top","values":[0.1,0.2,0.3,0.4,0.5,0.6,0.7,0.8,0.9],"labels":false,"title":null}},"y":{"datum":0.78,"type":"quantitative","axis":{"orient":"right","values":[0.1,0.2,0.3,0.4,0.5,0.6,0.7,0.8,0.9],"labels":false,"title":null}},"text":{"field":"p"}}}
],"resolve":{"axis":{"x":"independent","y":"independent"}}},
{"width":169,"height":132,
"layer":[
{"data":{"name":"pts"},"transform":[{"filter":"datum.p=='K39'"}],"mark":{"type":"point","filled":true,"color":"black","opacity":1,"clip":true},
"encoding":{"x":{"field":"x","type":"quantitative","scale":{"domain":[0,1],"nice":false},"axis":{"orient":"bottom","values":[0.1,0.2,0.3,0.4,0.5,0.6,0.7,0.8,0.9],"labels":false,"title":null}},
"y":{"field":"y","type":"quantitative","scale":{"domain":[0,1],"nice":false},"axis":{"orient":"left","values":[0.1,0.2,0.3,0.4,0.5,0.6,0.7,0.8,0.9],"labelExpr":"indexof([2,4,6,8], round(datum.value*10)) >= 0 ? datum.label : ''","title":null}},
"size":{"field":"k","type":"ordinal","scale":{"domain":["c","m","d"],"range":[60,15,2.5]},"legend":null}}},
{"data":{"name":"ann"},"transform":[{"filter":"datum.p=='K39'"}],"mark":{"type":"text","fontSize":15,"color":"black"},"encoding":{"x":{"field":"x","type":"quantitative","axis":null},"y":{"field":"y","type":"quantitative","axis":null},"text":{"field":"t"}}},
{"data":{"name":"names"},"transform":[{"filter":"datum.p=='K39'"}],"mark":{"type":"text","fontSize":24,"align":"right","baseline":"alphabetic","color":"black"},
"encoding":{"x":{"datum":0.955,"type":"quantitative","axis":{"orient":"top","values":[0.1,0.2,0.3,0.4,0.5,0.6,0.7,0.8,0.9],"labels":false,"title":null}},"y":{"datum":0.78,"type":"quantitative","axis":{"orient":"right","values":[0.1,0.2,0.3,0.4,0.5,0.6,0.7,0.8,0.9],"labels":false,"title":null}},"text":{"field":"p"}}}
],"resolve":{"axis":{"x":"independent","y":"independent"}}},
{"width":169,"height":132,
"layer":[
{"data":{"name":"pts"},"transform":[{"filter":"datum.p=='E44'"}],"mark":{"type":"point","filled":true,"color":"black","opacity":1,"clip":true},
"encoding":{"x":{"field":"x","type":"quantitative","scale":{"domain":[0,1],"nice":false},"axis":{"orient":"bottom","values":[0.1,0.2,0.3,0.4,0.5,0.6,0.7,0.8,0.9],"labels":false,"title":null}},
"y":{"field":"y","type":"quantitative","scale":{"domain":[0,1],"nice":false},"axis":{"orient":"left","values":[0.1,0.2,0.3,0.4,0.5,0.6,0.7,0.8,0.9],"labels":false,"title":null}},
"size":{"field":"k","type":"ordinal","scale":{"domain":["c","m","d"],"range":[60,15,2.5]},"legend":null}}},
{"data":{"name":"ann"},"transform":[{"filter":"datum.p=='E44'"}],"mark":{"type":"text","fontSize":15,"color":"black"},"encoding":{"x":{"field":"x","type":"quantitative","axis":null},"y":{"field":"y","type":"quantitative","axis":null},"text":{"field":"t"}}},
{"data":{"name":"names"},"transform":[{"filter":"datum.p=='E44'"}],"mark":{"type":"text","fontSize":24,"align":"right","baseline":"alphabetic","color":"black"},
"encoding":{"x":{"datum":0.955,"type":"quantitative","axis":{"orient":"top","values":[0.1,0.2,0.3,0.4,0.5,0.6,0.7,0.8,0.9],"labels":false,"title":null}},"y":{"datum":0.78,"type":"quantitative","axis":{"orient":"right","values":[0.1,0.2,0.3,0.4,0.5,0.6,0.7,0.8,0.9],"labels":false,"title":null}},"text":{"field":"p"}}}
],"resolve":{"axis":{"x":"independent","y":"independent"}}},
{"width":169,"height":132,
"layer":[
{"data":{"name":"pts"},"transform":[{"filter":"datum.p=='D48'"}],"mark":{"type":"point","filled":true,"color":"black","opacity":1,"clip":true},
"encoding":{"x":{"field":"x","type":"quantitative","scale":{"domain":[0,1],"nice":false},"axis":{"orient":"bottom","values":[0.1,0.2,0.3,0.4,0.5,0.6,0.7,0.8,0.9],"labels":false,"title":null}},
"y":{"field":"y","type":"quantitative","scale":{"domain":[0,1],"nice":false},"axis":{"orient":"left","values":[0.1,0.2,0.3,0.4,0.5,0.6,0.7,0.8,0.9],"labels":false,"title":null}},
"size":{"field":"k","type":"ordinal","scale":{"domain":["c","m","d"],"range":[60,15,2.5]},"legend":null}}},
{"data":{"name":"ann"},"transform":[{"filter":"datum.p=='D48'"}],"mark":{"type":"text","fontSize":15,"color":"black"},"encoding":{"x":{"field":"x","type":"quantitative","axis":null},"y":{"field":"y","type":"quantitative","axis":null},"text":{"field":"t"}}},
{"data":{"name":"names"},"transform":[{"filter":"datum.p=='D48'"}],"mark":{"type":"text","fontSize":24,"align":"right","baseline":"alphabetic","color":"black"},
"encoding":{"x":{"datum":0.955,"type":"quantitative","axis":{"orient":"top","values":[0.1,0.2,0.3,0.4,0.5,0.6,0.7,0.8,0.9],"labels":false,"title":null}},"y":{"datum":0.78,"type":"quantitative","axis":{"orient":"right","values":[0.1,0.2,0.3,0.4,0.5,0.6,0.7,0.8,0.9],"labels":false,"title":null}},"text":{"field":"p"}}}
],"resolve":{"axis":{"x":"independent","y":"independent"}}},
{"width":169,"height":132,
"layer":[
{"data":{"name":"pts"},"transform":[{"filter":"datum.p=='L56'"}],"mark":{"type":"point","filled":true,"color":"black","opacity":1,"clip":true},
"encoding":{"x":{"field":"x","type":"quantitative","scale":{"domain":[0,1],"nice":false},"axis":{"orient":"bottom","values":[0.1,0.2,0.3,0.4,0.5,0.6,0.7,0.8,0.9],"labels":false,"title":null}},
"y":{"field":"y","type":"quantitative","scale":{"domain":[0,1],"nice":false},"axis":{"orient":"left","values":[0.1,0.2,0.3,0.4,0.5,0.6,0.7,0.8,0.9],"labelExpr":"indexof([2,4,6,8], round(datum.value*10)) >= 0 ? datum.label : ''","title":null}},
"size":{"field":"k","type":"ordinal","scale":{"domain":["c","m","d"],"range":[60,15,2.5]},"legend":null}}},
{"data":{"name":"ann"},"transform":[{"filter":"datum.p=='L56'"}],"mark":{"type":"text","fontSize":15,"color":"black"},"encoding":{"x":{"field":"x","type":"quantitative","axis":null},"y":{"field":"y","type":"quantitative","axis":null},"text":{"field":"t"}}},
{"data":{"name":"names"},"transform":[{"filter":"datum.p=='L56'"}],"mark":{"type":"text","fontSize":24,"align":"right","baseline":"alphabetic","color":"black"},
"encoding":{"x":{"datum":0.955,"type":"quantitative","axis":{"orient":"top","values":[0.1,0.2,0.3,0.4,0.5,0.6,0.7,0.8,0.9],"labels":false,"title":null}},"y":{"datum":0.78,"type":"quantitative","axis":{"orient":"right","values":[0.1,0.2,0.3,0.4,0.5,0.6,0.7,0.8,0.9],"labels":false,"title":null}},"text":{"field":"p"}}}
],"resolve":{"axis":{"x":"independent","y":"independent"}}},
{"width":169,"height":132,
"layer":[
{"data":{"name":"pts"},"transform":[{"filter":"datum.p=='K59'"}],"mark":{"type":"point","filled":true,"color":"black","opacity":1,"clip":true},
"encoding":{"x":{"field":"x","type":"quantitative","scale":{"domain":[0,1],"nice":false},"axis":{"orient":"bottom","values":[0.1,0.2,0.3,0.4,0.5,0.6,0.7,0.8,0.9],"labels":false,"title":null}},
"y":{"field":"y","type":"quantitative","scale":{"domain":[0,1],"nice":false},"axis":{"orient":"left","values":[0.1,0.2,0.3,0.4,0.5,0.6,0.7,0.8,0.9],"labels":false,"title":null}},
"size":{"field":"k","type":"ordinal","scale":{"domain":["c","m","d"],"range":[60,15,2.5]},"legend":null}}},
{"data":{"name":"ann"},"transform":[{"filter":"datum.p=='K59'"}],"mark":{"type":"text","fontSize":15,"color":"black"},"encoding":{"x":{"field":"x","type":"quantitative","axis":null},"y":{"field":"y","type":"quantitative","axis":null},"text":{"field":"t"}}},
{"data":{"name":"names"},"transform":[{"filter":"datum.p=='K59'"}],"mark":{"type":"text","fontSize":24,"align":"right","baseline":"alphabetic","color":"black"},
"encoding":{"x":{"datum":0.955,"type":"quantitative","axis":{"orient":"top","values":[0.1,0.2,0.3,0.4,0.5,0.6,0.7,0.8,0.9],"labels":false,"title":null}},"y":{"datum":0.78,"type":"quantitative","axis":{"orient":"right","values":[0.1,0.2,0.3,0.4,0.5,0.6,0.7,0.8,0.9],"labels":false,"title":null}},"text":{"field":"p"}}}
],"resolve":{"axis":{"x":"independent","y":"independent"}}},
{"width":169,"height":132,"data":{"values":[]},"mark":"point","view":{"stroke":null}},
{"width":169,"height":18,"data":{"values":[]},"mark":"point","view":{"stroke":null}},
{"width":169,"height":18,"data":{"values":[]},"mark":"point","view":{"stroke":null}},
{"width":169,"height":18,"data":{"values":[]},"mark":"point","view":{"stroke":null}},
{"width":169,"height":132,
"title":{"text":"b","anchor":"start","frame":"group","fontSize":38,"fontWeight":"bold","baseline":"alphabetic","offset":0,"dx":-33,"dy":49,"color":"black"},
"layer":[
{"data":{"name":"pts"},"transform":[{"filter":"datum.p=='T15'"}],"mark":{"type":"point","filled":true,"color":"black","opacity":1,"clip":true},
"encoding":{"x":{"field":"x","type":"quantitative","scale":{"domain":[0,1],"nice":false},"axis":{"orient":"bottom","values":[0.1,0.2,0.3,0.4,0.5,0.6,0.7,0.8,0.9],"labels":false,"title":null}},
"y":{"field":"y","type":"quantitative","scale":{"domain":[0,1],"nice":false},"axis":{"orient":"left","values":[0.1,0.2,0.3,0.4,0.5,0.6,0.7,0.8,0.9],"labelExpr":"indexof([2,4,6,8], round(datum.value*10)) >= 0 ? datum.label : ''","title":null}},
"size":{"field":"k","type":"ordinal","scale":{"domain":["c","m","d"],"range":[60,15,2.5]},"legend":null}}},
{"data":{"name":"names"},"transform":[{"filter":"datum.p=='T15'"}],"mark":{"type":"text","fontSize":24,"align":"right","baseline":"alphabetic","color":"black"},
"encoding":{"x":{"datum":0.955,"type":"quantitative","axis":{"orient":"top","values":[0.1,0.2,0.3,0.4,0.5,0.6,0.7,0.8,0.9],"labels":false,"title":"g+","titleFontSize":17,"titleAngle":270,"titleAlign":"left","titleBaseline":"alphabetic","titleX":-46,"titleY":18}},"y":{"datum":0.78,"type":"quantitative","axis":{"orient":"right","values":[0.1,0.2,0.3,0.4,0.5,0.6,0.7,0.8,0.9],"labels":false,"title":"P","titleFontSize":30,"titleAngle":270,"titleAlign":"left","titleBaseline":"alphabetic","titleX":-230,"titleY":41}},"text":{"field":"p"}}}
],"resolve":{"axis":{"x":"independent","y":"independent"}}},
{"width":169,"height":132,"data":{"values":[]},"mark":"point","view":{"stroke":null}},
{"width":169,"height":132,"data":{"values":[]},"mark":"point","view":{"stroke":null}},
{"width":169,"height":132,
"layer":[
{"data":{"name":"pts"},"transform":[{"filter":"datum.p=='T17'"}],"mark":{"type":"point","filled":true,"color":"black","opacity":1,"clip":true},
"encoding":{"x":{"field":"x","type":"quantitative","scale":{"domain":[0,1],"nice":false},"axis":{"orient":"bottom","values":[0.1,0.2,0.3,0.4,0.5,0.6,0.7,0.8,0.9],"labelExpr":"indexof([2,4,6,8], round(datum.value*10)) >= 0 ? datum.label : ''","title":"P","titleFontSize":30,"titleAlign":"left","titleBaseline":"alphabetic","titleX":109,"titleY":47}},
"y":{"field":"y","type":"quantitative","scale":{"domain":[0,1],"nice":false},"axis":{"orient":"left","values":[0.1,0.2,0.3,0.4,0.5,0.6,0.7,0.8,0.9],"labelExpr":"indexof([2,4,6,8], round(datum.value*10)) >= 0 ? datum.label : ''","title":"(χ₁≈60° relative population)","titleFontSize":21,"titleAngle":270,"titleAlign":"left","titleBaseline":"alphabetic","titleX":-58,"titleY":-142}},
"size":{"field":"k","type":"ordinal","scale":{"domain":["c","m","d"],"range":[60,15,2.5]},"legend":null}}},
{"data":{"name":"names"},"transform":[{"filter":"datum.p=='T17'"}],"mark":{"type":"text","fontSize":24,"align":"right","baseline":"alphabetic","color":"black"},
"encoding":{"x":{"datum":0.955,"type":"quantitative","axis":{"orient":"top","values":[0.1,0.2,0.3,0.4,0.5,0.6,0.7,0.8,0.9],"labels":false,"title":"tr","titleFontSize":17,"titleFontWeight":"bold","titleAlign":"left","titleBaseline":"alphabetic","titleX":129,"titleY":182}},"y":{"datum":0.78,"type":"quantitative","axis":{"orient":"right","values":[0.1,0.2,0.3,0.4,0.5,0.6,0.7,0.8,0.9],"labels":false,"title":null}},"text":{"field":"p"}}}
],"resolve":{"axis":{"x":"independent","y":"independent"}}},
{"width":169,"height":132,
"layer":[
{"data":{"name":"pts"},"transform":[{"filter":"datum.p=='T37'"}],"mark":{"type":"point","filled":true,"color":"black","opacity":1,"clip":true},
"encoding":{"x":{"field":"x","type":"quantitative","scale":{"domain":[0,1],"nice":false},"axis":{"orient":"bottom","values":[0.1,0.2,0.3,0.4,0.5,0.6,0.7,0.8,0.9],"labelExpr":"indexof([2,4,6,8], round(datum.value*10)) >= 0 ? datum.label : ''","title":"(χ₁≈180° relative population)","titleFontSize":21,"titleAlign":"left","titleBaseline":"alphabetic","titleX":-24,"titleY":42}},
"y":{"field":"y","type":"quantitative","scale":{"domain":[0,1],"nice":false},"axis":{"orient":"left","values":[0.1,0.2,0.3,0.4,0.5,0.6,0.7,0.8,0.9],"labels":false,"title":null}},
"size":{"field":"k","type":"ordinal","scale":{"domain":["c","m","d"],"range":[60,15,2.5]},"legend":null}}},
{"data":{"name":"names"},"transform":[{"filter":"datum.p=='T37'"}],"mark":{"type":"text","fontSize":24,"align":"right","baseline":"alphabetic","color":"black"},
"encoding":{"x":{"datum":0.955,"type":"quantitative","axis":{"orient":"top","values":[0.1,0.2,0.3,0.4,0.5,0.6,0.7,0.8,0.9],"labels":false,"title":null}},"y":{"datum":0.78,"type":"quantitative","axis":{"orient":"right","values":[0.1,0.2,0.3,0.4,0.5,0.6,0.7,0.8,0.9],"labels":false,"title":null}},"text":{"field":"p"}}}
],"resolve":{"axis":{"x":"independent","y":"independent"}}},
{"width":169,"height":132,
"layer":[
{"data":{"name":"pts"},"transform":[{"filter":"datum.p=='T46'"}],"mark":{"type":"point","filled":true,"color":"black","opacity":1,"clip":true},
"encoding":{"x":{"field":"x","type":"quantitative","scale":{"domain":[0,1],"nice":false},"axis":{"orient":"bottom","values":[0.1,0.2,0.3,0.4,0.5,0.6,0.7,0.8,0.9],"labelExpr":"indexof([2,4,6,8], round(datum.value*10)) >= 0 ? datum.label : ''","title":null}},
"y":{"field":"y","type":"quantitative","scale":{"domain":[0,1],"nice":false},"axis":{"orient":"left","values":[0.1,0.2,0.3,0.4,0.5,0.6,0.7,0.8,0.9],"labels":false,"title":null}},
"size":{"field":"k","type":"ordinal","scale":{"domain":["c","m","d"],"range":[60,15,2.5]},"legend":null}}},
{"data":{"name":"names"},"transform":[{"filter":"datum.p=='T46'"}],"mark":{"type":"text","fontSize":24,"align":"right","baseline":"alphabetic","color":"black"},
"encoding":{"x":{"datum":0.955,"type":"quantitative","axis":{"orient":"top","values":[0.1,0.2,0.3,0.4,0.5,0.6,0.7,0.8,0.9],"labels":false,"title":null}},"y":{"datum":0.78,"type":"quantitative","axis":{"orient":"right","values":[0.1,0.2,0.3,0.4,0.5,0.6,0.7,0.8,0.9],"labels":false,"title":null}},"text":{"field":"p"}}}
],"resolve":{"axis":{"x":"independent","y":"independent"}}}
]
}
